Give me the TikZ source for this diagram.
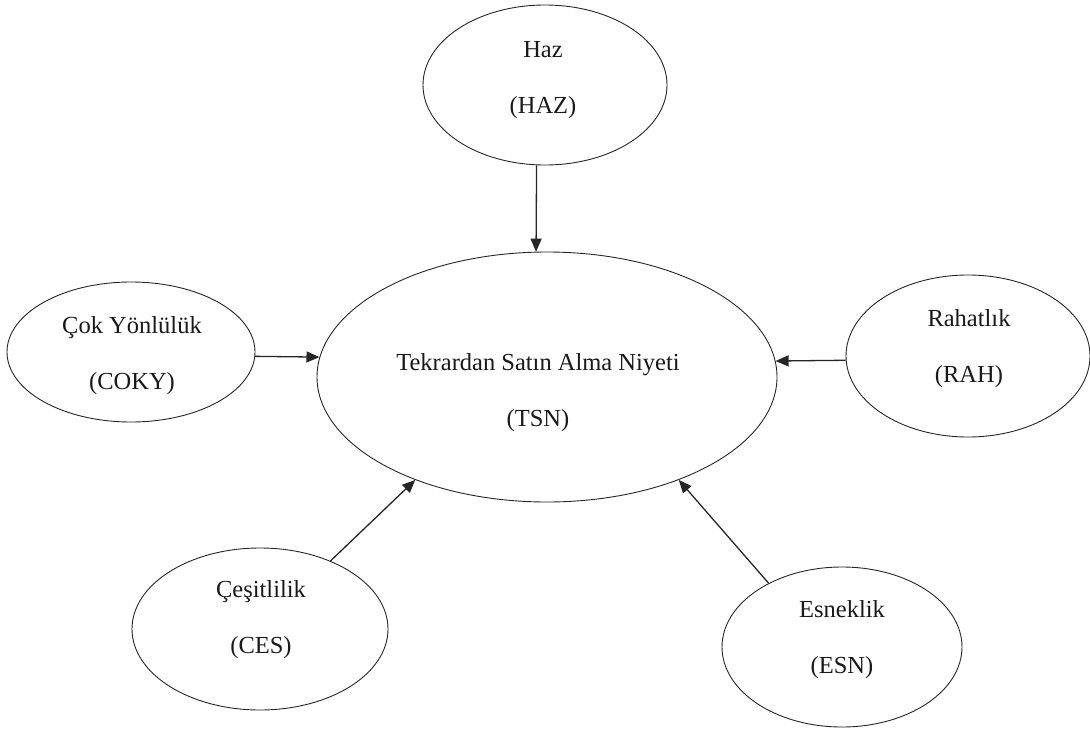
\documentclass[tikz,border=0pt]{standalone}
\usepackage{fontspec}
\setmainfont{Liberation Serif}
\usetikzlibrary{shapes.geometric,arrows.meta}
\begin{document}
\begin{tikzpicture}[x=1pt,y=1pt,
  oval/.style={draw=black!85,line width=0.9pt,ellipse,inner sep=0pt},
  lbl/.style={align=center,text=black!90,font=\fontsize{24.5}{56}\selectfont},
  link/.style={draw=black!85,line width=1.3pt,-{Triangle[length=13pt,width=11pt]}}]
\useasboundingbox (0,0) rectangle (1090,-731);
% construct ellipses
\node[oval,minimum width=460pt,minimum height=250pt] (tsn) at (547,-377) {};
\node[oval,minimum width=244pt,minimum height=160pt] (haz) at (545,-85) {};
\node[oval,minimum width=248pt,minimum height=140pt] (coky) at (131,-352) {};
\node[oval,minimum width=244pt,minimum height=162pt] (rah) at (968,-356) {};
\node[oval,minimum width=256pt,minimum height=162pt] (ces) at (260,-629) {};
\node[oval,minimum width=240pt,minimum height=160pt] (esn) at (842,-647) {};
% construct names and abbreviations
\node[lbl] (tsn-t) at (538,-393) {Tekrardan Satın Alma Niyeti\\(TSN)};
\node[lbl] (haz-t) at (543,-80) {Haz\\(HAZ)};
\node[lbl] (coky-t) at (132,-356) {Çok Yönlülük\\(COKY)};
\node[lbl] (rah-t) at (969,-349) {Rahatlık\\(RAH)};
\node[lbl] (ces-t) at (261,-620) {Çeşitlilik\\(CES)};
\node[lbl] (esn-t) at (842,-640) {Esneklik\\(ESN)};
% paths into the outcome
\draw[link] (haz.264) -- (tsn.95);
\draw[link] (coky.-2) -- (tsn.175);
\draw[link] (rah.182) -- (tsn.4);
\draw[link] (ces.44) -- (tsn.218);
\draw[link] (esn.139) -- (tsn.-38);
\end{tikzpicture}
\end{document}
